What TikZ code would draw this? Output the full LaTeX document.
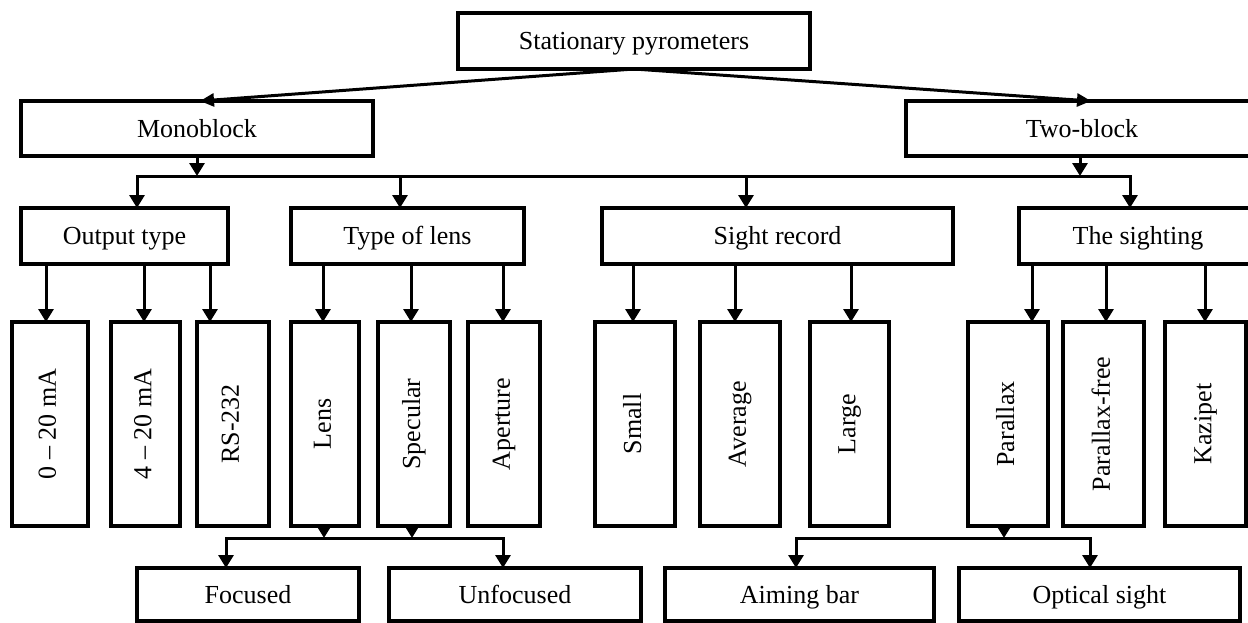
\documentclass[tikz,border=0pt]{standalone}
\usepackage{fontspec}
\setmainfont{Liberation Serif}
\usetikzlibrary{arrows.meta}
\newcommand{\vtext}[1]{\rotatebox{90}{\rule[-5.6pt]{0pt}{22.8pt}#1}}
\begin{document}
\begin{tikzpicture}[x=1pt,y=-1pt,
  box/.style={draw, line width=3.3pt, inner sep=0pt, outer sep=0pt, font=\fontsize{26}{30}\selectfont},
  hbox/.style={box, text height=17.2pt, text depth=0pt},
  conn/.style={line width=3pt, -{Triangle[length=13pt,width=15pt]}},
  slant/.style={line width=3pt, -{Triangle[length=14pt,width=13pt]}},
  busline/.style={line width=3pt, line cap=rect}]
\useasboundingbox (0,0) rectangle (1248,622);
\clip (0,0) rectangle (1248,622);
% level 0 and 1
\node[hbox, minimum width=352pt, minimum height=56pt] (top) at (634,41) {Stationary pyrometers};
\node[hbox, minimum width=352pt, minimum height=55pt] (mono) at (197,128.5) {Monoblock};
\node[hbox, minimum width=352pt, minimum height=55pt] (two) at (1082,128.5) {Two-block};
% level 2
\node[hbox, minimum width=207pt, minimum height=56pt] (out) at (124.5,236) {Output type};
\node[hbox, minimum width=233pt, minimum height=56pt] (ltype) at (407.5,236) {Type of lens};
\node[hbox, minimum width=351pt, minimum height=56pt] (srec) at (777.5,236) {Sight record};
\node[hbox, minimum width=238pt, minimum height=56pt] (sight) at (1138,236) {The sighting};
% level 3
\node[box, minimum width=76pt, minimum height=204pt] (z20) at (50,424) {\vtext{0 -- 20 mA}};
\node[box, minimum width=69pt, minimum height=204pt] (f20) at (145.5,424) {\vtext{4 -- 20 mA}};
\node[box, minimum width=72pt, minimum height=204pt] (rs) at (233,424) {\vtext{RS-232}};
\node[box, minimum width=68pt, minimum height=204pt] (lens) at (325,424) {\vtext{Lens}};
\node[box, minimum width=72pt, minimum height=204pt] (spec) at (414,424) {\vtext{Specular}};
\node[box, minimum width=72pt, minimum height=204pt] (aper) at (504,424) {\vtext{Aperture}};
\node[box, minimum width=80pt, minimum height=204pt] (small) at (635,424) {\vtext{Small}};
\node[box, minimum width=80pt, minimum height=204pt] (avg) at (740,424) {\vtext{Average}};
\node[box, minimum width=79pt, minimum height=204pt] (large) at (849.5,424) {\vtext{Large}};
\node[box, minimum width=80pt, minimum height=204pt] (par) at (1008,424) {\vtext{Parallax}};
\node[box, minimum width=81pt, minimum height=204pt] (pfree) at (1103.5,424) {\vtext{Parallax-free}};
\node[box, minimum width=81pt, minimum height=204pt] (kaz) at (1205.5,424) {\vtext{Kazipet}};
% level 4
\node[hbox, minimum width=222pt, minimum height=53pt] (foc) at (248,594.5) {Focused};
\node[hbox, minimum width=252pt, minimum height=53pt] (unf) at (515,594.5) {Unfocused};
\node[hbox, minimum width=269pt, minimum height=53pt] (aim) at (799.5,594.5) {Aiming bar};
\node[hbox, minimum width=281pt, minimum height=53pt] (opt) at (1099.5,594.5) {Optical sight};
% top arrows
\draw[slant] (top.south) -- ([xshift=3pt]mono.north);
\draw[slant] (top.south) -- ([xshift=9pt]two.north);
% main bus
\coordinate (busL) at (137,176);
\coordinate (busR) at (1130,176);
\draw[busline] (busL) -- (busR);
\draw[conn] (mono.south) -- (mono.south |- busL);
\draw[conn] ([xshift=-2pt]two.south) -- ([xshift=-2pt]two.south |- busL);
\draw[conn] (busL) -- (busL |- out.north);
\draw[conn] (400,0 |- busL) -- (400,0 |- ltype.north);
\draw[conn] (746,0 |- busL) -- (746,0 |- srec.north);
\draw[conn] (busR) -- (busR |- sight.north);
% level 2 -> 3
\draw[conn] (out.south -| 46,0) -- (z20.north -| 46,0);
\draw[conn] (out.south -| 144,0) -- (f20.north -| 144,0);
\draw[conn] (out.south -| 210,0) -- (rs.north -| 210,0);
\draw[conn] (ltype.south -| 323,0) -- (lens.north -| 323,0);
\draw[conn] (ltype.south -| 411,0) -- (spec.north -| 411,0);
\draw[conn] (ltype.south -| 503,0) -- (aper.north -| 503,0);
\draw[conn] (srec.south -| 633,0) -- (small.north -| 633,0);
\draw[conn] (srec.south -| 735,0) -- (avg.north -| 735,0);
\draw[conn] (srec.south -| 851,0) -- (large.north -| 851,0);
\draw[conn] (sight.south -| 1032,0) -- (par.north -| 1032,0);
\draw[conn] (sight.south -| 1106,0) -- (pfree.north -| 1106,0);
\draw[conn] (sight.south -| 1205,0) -- (kaz.north -| 1205,0);
% bottom left bus
\coordinate (bl1) at (226,538);
\coordinate (bl2) at (503,538);
\draw[busline] (bl1) -- (bl2);
\draw[conn] (lens.south -| 324,0) -- (324,0 |- bl1);
\draw[conn] (spec.south -| 412,0) -- (412,0 |- bl1);
\draw[conn] (bl1) -- (bl1 |- foc.north);
\draw[conn] (bl2) -- (bl2 |- unf.north);
% bottom right bus
\coordinate (br1) at (796,538);
\coordinate (br2) at (1090,538);
\draw[busline] (br1) -- (br2);
\draw[conn] (par.south -| 1004,0) -- (1004,0 |- br1);
\draw[conn] (br1) -- (br1 |- aim.north);
\draw[conn] (br2) -- (br2 |- opt.north);
\end{tikzpicture}
\end{document}
